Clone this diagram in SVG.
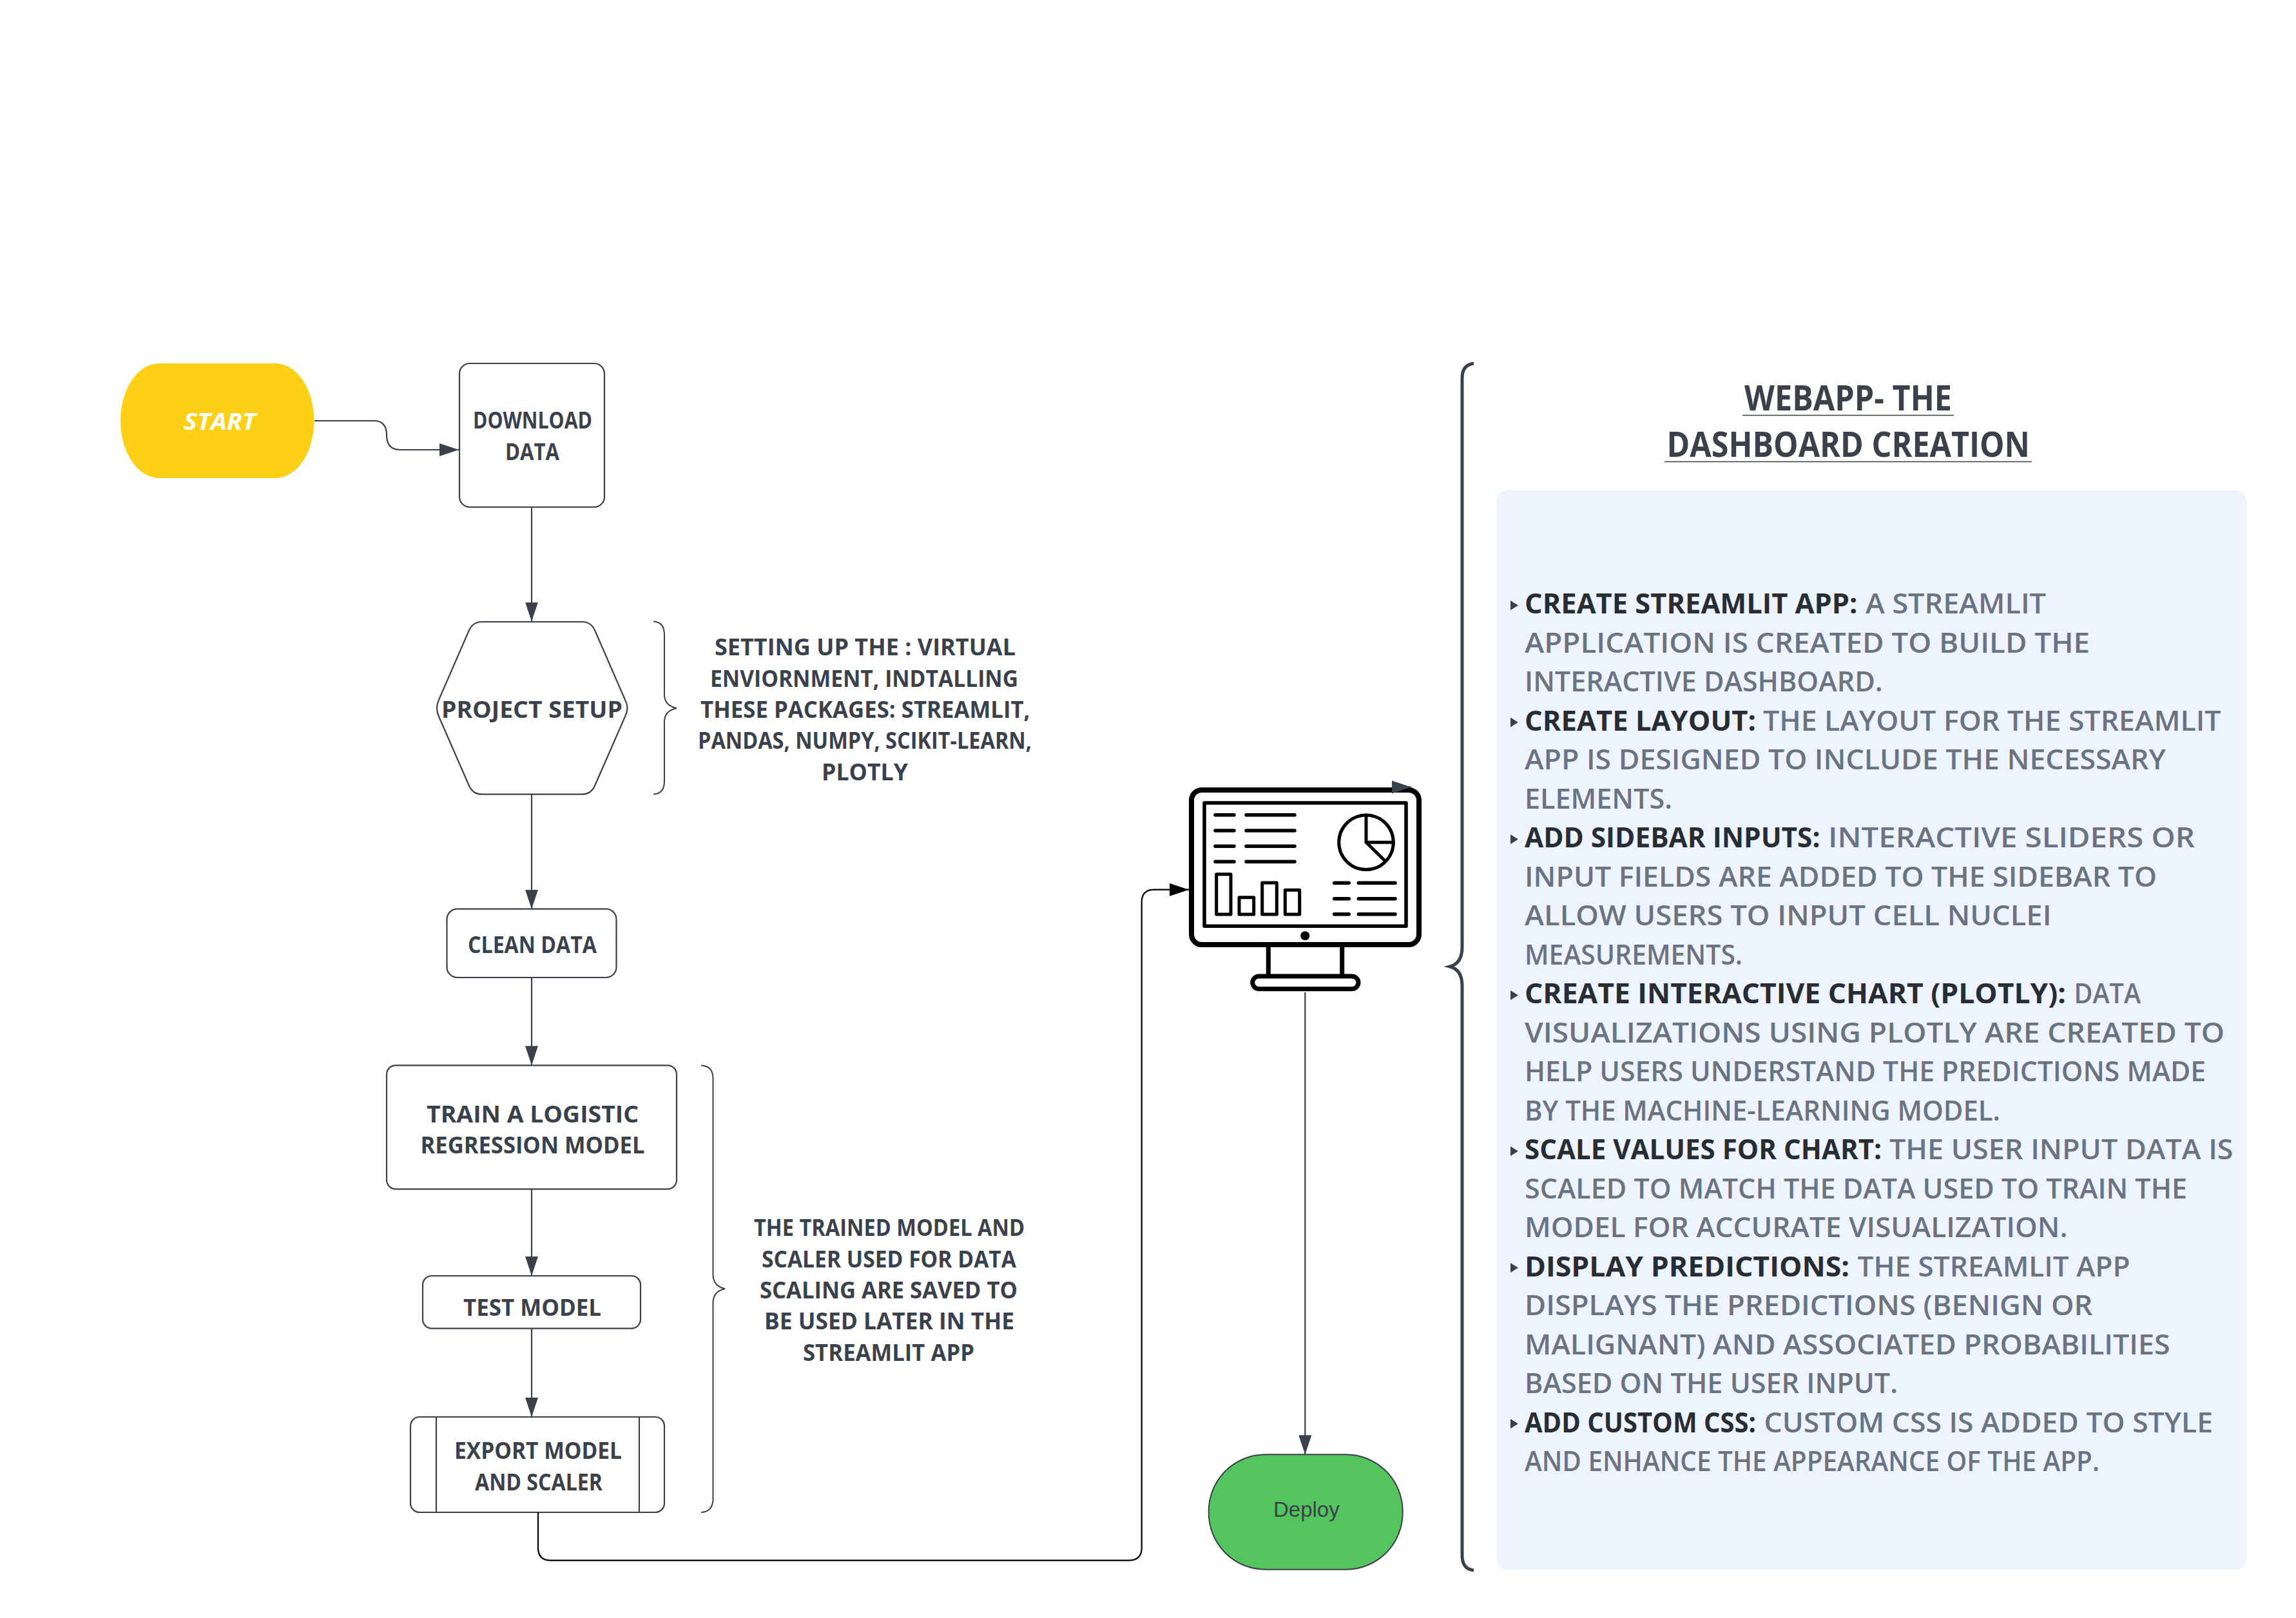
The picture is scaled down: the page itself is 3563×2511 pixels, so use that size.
<svg xmlns="http://www.w3.org/2000/svg" width="3563" height="2511" viewBox="0 0 3563 2511">
<style>
text{font-family:"Open Sans","Liberation Sans",sans-serif}
.n{fill:#fff;stroke:#3a414a;stroke-width:2.2}
.l{font-size:36px;font-weight:700;fill:#3a414a}
.t{font-size:53px;font-weight:700;fill:#3a414a}
.b{font-size:43px;font-weight:700;fill:#282c33}
.r{font-size:43px;font-weight:600;fill:#6b7280}
.c{fill:none;stroke:#3a414a;stroke-width:2.2}
.k{fill:none;stroke:#000;stroke-width:2.2}
.br{fill:none;stroke:#3a414a;stroke-width:2}
.m{fill:none;stroke:#000;stroke-linecap:round;stroke-linejoin:round}
.u{stroke:#3a414a;stroke-width:1.5}
</style>
<defs>
<marker id="a" markerUnits="userSpaceOnUse" markerWidth="32" markerHeight="22" refX="30" refY="11" orient="auto"><path d="M0,1 L30,11 L0,21 Z" fill="#3a414a"/></marker>
<marker id="ak" markerUnits="userSpaceOnUse" markerWidth="32" markerHeight="22" refX="30" refY="11" orient="auto"><path d="M0,1 L30,11 L0,21 Z" fill="#000"/></marker>
</defs>
<rect width="3563" height="2511" fill="#fff"/>

<g id="start">
<rect x="187" y="564" width="300.500" height="178" rx="60" ry="89" fill="#fcd016"/>
<text x="285" y="667" textLength="112" lengthAdjust="spacingAndGlyphs" font-size="36" font-weight="700" font-style="italic" fill="#fff">START</text>
</g>
<g id="download-data">
<rect class="n" x="713" y="564" width="225" height="223" rx="16"/>
<text class="l" x="734" y="665" textLength="185" lengthAdjust="spacingAndGlyphs">DOWNLOAD</text>
<text class="l" x="784" y="714" textLength="84" lengthAdjust="spacingAndGlyphs">DATA</text>
</g>
<g id="project-setup">
<path class="n" d="M748,965 H903 Q917,965 923,978 L970,1086 Q977,1099 970,1112 L923,1219.500 Q917,1232.700 903,1232.700 H748 Q734,1232.700 728,1219.500 L681,1112 Q675,1099 681,1086 L728,978 Q734,965 748,965 Z"/>
<text class="l" x="685" y="1113.500" textLength="281" lengthAdjust="spacingAndGlyphs">PROJECT SETUP</text>
</g>
<g id="clean-data">
<rect class="n" x="693.500" y="1410.700" width="263" height="106.300" rx="16"/>
<text class="l" x="726" y="1479" textLength="200" lengthAdjust="spacingAndGlyphs">CLEAN DATA</text>
</g>
<g id="train-model">
<rect class="n" x="600" y="1653.300" width="450" height="192" rx="14"/>
<text class="l" x="662" y="1742" textLength="329" lengthAdjust="spacingAndGlyphs">TRAIN A LOGISTIC</text>
<text class="l" x="652.500" y="1790" textLength="348" lengthAdjust="spacingAndGlyphs">REGRESSION MODEL</text>
</g>
<g id="test-model">
<rect class="n" x="656" y="1980" width="338" height="81.600" rx="14"/>
<text class="l" x="719" y="2042" textLength="214" lengthAdjust="spacingAndGlyphs">TEST MODEL</text>
</g>
<g id="export-model">
<rect class="n" x="637" y="2199" width="394" height="148" rx="14"/>
<path class="c" d="M677,2199 V2347 M992,2199 V2347"/>
<text class="l" x="705" y="2264" textLength="260" lengthAdjust="spacingAndGlyphs">EXPORT MODEL</text>
<text class="l" x="737" y="2313" textLength="198" lengthAdjust="spacingAndGlyphs">AND SCALER</text>
</g>
<g id="monitor">
<rect class="m" x="1849" y="1226" width="353" height="240" rx="16" stroke-width="8"/>
<rect class="m" x="1869" y="1246" width="313" height="191.300" stroke-width="5.500"/>
<path class="m" stroke-width="5.500" d="M1886,1264.700 H1915 M1934,1264.700 H2009 M1886,1289 H1915 M1934,1289 H2009 M1886,1313.300 H1915 M1934,1313.300 H2009 M1886,1337.300 H1915 M1934,1337.300 H2009 M2070.700,1370.300 H2093.300 M2108.300,1370.300 H2165 M2070.700,1394.700 H2093.300 M2108.300,1394.700 H2165 M2070.700,1418.700 H2093.300 M2108.300,1418.700 H2165"/>
<path class="m" stroke-width="5" d="M1887.700,1356.700 H1910 V1419 H1887.700 Z M1923,1392.700 H1945.700 V1419 H1923 Z M1958.700,1370 H1981.300 V1419 H1958.700 Z M1994.300,1381.300 H2016.700 V1419 H1994.300 Z"/>
<circle class="m" cx="2120" cy="1307.300" r="42.300" stroke-width="5"/>
<path class="m" stroke-width="5" d="M2120,1265 V1307.300 H2162.300 M2120,1307.300 L2148.300,1335"/>
<circle cx="2025.300" cy="1452.300" r="7" fill="#000"/>
<path class="m" stroke-width="7" d="M1968.300,1466 V1513 M2082.700,1466 V1513"/>
<rect class="m" x="1943.700" y="1515" width="164.300" height="19.700" rx="10" stroke-width="7"/>
</g>
<g id="deploy">
<rect x="1875.700" y="2257.300" width="301" height="178.400" rx="88" ry="88" fill="#54c45e" stroke="#3a414a" stroke-width="2"/>
<text x="1976" y="2354" font-size="33" fill="#3a414a" style="font-family:'Liberation Sans',Arial,sans-serif">Deploy</text>
</g>
<g id="note-setup">
<path class="br" d="M1014,964.500 Q1031,965 1031,985 V1078 Q1031,1095 1050,1099 Q1031,1103 1031,1120 V1212 Q1031,1232 1014,1232.500"/>
<text class="l" x="1109" y="1017.300" textLength="467" lengthAdjust="spacingAndGlyphs">SETTING UP THE : VIRTUAL</text>
<text class="l" x="1102" y="1066" textLength="478" lengthAdjust="spacingAndGlyphs">ENVIORNMENT, INDTALLING</text>
<text class="l" x="1087" y="1114" textLength="511.500" lengthAdjust="spacingAndGlyphs">THESE PACKAGES: STREAMLIT,</text>
<text class="l" x="1083" y="1162" textLength="518" lengthAdjust="spacingAndGlyphs">PANDAS, NUMPY, SCIKIT-LEARN,</text>
<text class="l" x="1275" y="1210.700" textLength="134" lengthAdjust="spacingAndGlyphs">PLOTLY</text>
</g>
<g id="note-model">
<path class="br" d="M1088,1653.500 Q1106.500,1654 1106.500,1674 V1978 Q1106.500,1996 1125,2000 Q1106.500,2004 1106.500,2022 V2326 Q1106.500,2346 1088,2347"/>
<text class="l" x="1170" y="1918" textLength="420" lengthAdjust="spacingAndGlyphs">THE TRAINED MODEL AND</text>
<text class="l" x="1182" y="1967" textLength="395" lengthAdjust="spacingAndGlyphs">SCALER USED FOR DATA</text>
<text class="l" x="1179" y="2015" textLength="400" lengthAdjust="spacingAndGlyphs">SCALING ARE SAVED TO</text>
<text class="l" x="1186" y="2063" textLength="388" lengthAdjust="spacingAndGlyphs">BE USED LATER IN THE</text>
<text class="l" x="1246" y="2111.500" textLength="266" lengthAdjust="spacingAndGlyphs">STREAMLIT APP</text>
</g>
<g id="webapp-panel">
<path fill="none" stroke="#3a414a" stroke-width="5" d="M2287,564 Q2269,566 2269,587 V1470 Q2269,1495 2250,1500 Q2269,1505 2269,1530 V2414 Q2269,2435 2287,2437"/>
<text class="t" x="2707" y="637" textLength="322" lengthAdjust="spacingAndGlyphs">WEBAPP- THE</text>
<line class="u" x1="2704" y1="644.500" x2="3032" y2="644.500"/>
<text class="t" x="2586.500" y="709" textLength="563.500" lengthAdjust="spacingAndGlyphs">DASHBOARD CREATION</text>
<line class="u" x1="2583" y1="716.500" x2="3153" y2="716.500"/>
<rect x="2323" y="761" width="1163" height="1675" rx="16" fill="#edf4ff"/>
<path fill="#3a414a" d="M2344,932 L2356,939.500 L2344,947 Z M2344,1113.500 L2356,1121 L2344,1128.500 Z M2344,1295 L2356,1302.500 L2344,1310 Z M2344,1537 L2356,1544.500 L2344,1552 Z M2344,1779 L2356,1786.500 L2344,1794 Z M2344,1960 L2356,1967.500 L2344,1975 Z M2344,2202 L2356,2209.500 L2344,2217 Z"/>
<text class="b" x="2366" y="952" textLength="516.500" lengthAdjust="spacingAndGlyphs">CREATE STREAMLIT APP:</text>
<text class="r" x="2895" y="952" textLength="280" lengthAdjust="spacingAndGlyphs">A STREAMLIT</text>
<text class="r" x="2366" y="1012.500" textLength="877" lengthAdjust="spacingAndGlyphs">APPLICATION IS CREATED TO BUILD THE</text>
<text class="r" x="2366" y="1073" textLength="555.500" lengthAdjust="spacingAndGlyphs">INTERACTIVE DASHBOARD.</text>
<text class="b" x="2366" y="1133.500" textLength="359" lengthAdjust="spacingAndGlyphs">CREATE LAYOUT:</text>
<text class="r" x="2736" y="1133.500" textLength="710.500" lengthAdjust="spacingAndGlyphs">THE LAYOUT FOR THE STREAMLIT</text>
<text class="r" x="2366" y="1194" textLength="995" lengthAdjust="spacingAndGlyphs">APP IS DESIGNED TO INCLUDE THE NECESSARY</text>
<text class="r" x="2366" y="1254.500" textLength="229" lengthAdjust="spacingAndGlyphs">ELEMENTS.</text>
<text class="b" x="2366" y="1315" textLength="458.500" lengthAdjust="spacingAndGlyphs">ADD SIDEBAR INPUTS:</text>
<text class="r" x="2837" y="1315" textLength="569" lengthAdjust="spacingAndGlyphs">INTERACTIVE SLIDERS OR</text>
<text class="r" x="2366" y="1375.500" textLength="981" lengthAdjust="spacingAndGlyphs">INPUT FIELDS ARE ADDED TO THE SIDEBAR TO</text>
<text class="r" x="2366" y="1436" textLength="817.500" lengthAdjust="spacingAndGlyphs">ALLOW USERS TO INPUT CELL NUCLEI</text>
<text class="r" x="2366" y="1496.500" textLength="338" lengthAdjust="spacingAndGlyphs">MEASUREMENTS.</text>
<text class="b" x="2366" y="1557" textLength="840" lengthAdjust="spacingAndGlyphs">CREATE INTERACTIVE CHART (PLOTLY):</text>
<text class="r" x="3218.500" y="1557" textLength="103.500" lengthAdjust="spacingAndGlyphs">DATA</text>
<text class="r" x="2366" y="1617.500" textLength="1086" lengthAdjust="spacingAndGlyphs">VISUALIZATIONS USING PLOTLY ARE CREATED TO</text>
<text class="r" x="2366" y="1678" textLength="1057" lengthAdjust="spacingAndGlyphs">HELP USERS UNDERSTAND THE PREDICTIONS MADE</text>
<text class="r" x="2366" y="1738.500" textLength="738" lengthAdjust="spacingAndGlyphs">BY THE MACHINE-LEARNING MODEL.</text>
<text class="b" x="2366" y="1799" textLength="554" lengthAdjust="spacingAndGlyphs">SCALE VALUES FOR CHART:</text>
<text class="r" x="2932" y="1799" textLength="533.500" lengthAdjust="spacingAndGlyphs">THE USER INPUT DATA IS</text>
<text class="r" x="2366" y="1859.500" textLength="1028" lengthAdjust="spacingAndGlyphs">SCALED TO MATCH THE DATA USED TO TRAIN THE</text>
<text class="r" x="2366" y="1920" textLength="842.500" lengthAdjust="spacingAndGlyphs">MODEL FOR ACCURATE VISUALIZATION.</text>
<text class="b" x="2366" y="1980.500" textLength="504" lengthAdjust="spacingAndGlyphs">DISPLAY PREDICTIONS:</text>
<text class="r" x="2882.500" y="1980.500" textLength="423" lengthAdjust="spacingAndGlyphs">THE STREAMLIT APP</text>
<text class="r" x="2366" y="2041" textLength="881.500" lengthAdjust="spacingAndGlyphs">DISPLAYS THE PREDICTIONS (BENIGN OR</text>
<text class="r" x="2366" y="2101.500" textLength="1001.500" lengthAdjust="spacingAndGlyphs">MALIGNANT) AND ASSOCIATED PROBABILITIES</text>
<text class="r" x="2366" y="2162" textLength="579" lengthAdjust="spacingAndGlyphs">BASED ON THE USER INPUT.</text>
<text class="b" x="2366" y="2222.500" textLength="359" lengthAdjust="spacingAndGlyphs">ADD CUSTOM CSS:</text>
<text class="r" x="2737.500" y="2222.500" textLength="696.500" lengthAdjust="spacingAndGlyphs">CUSTOM CSS IS ADDED TO STYLE</text>
<text class="r" x="2366" y="2283" textLength="892" lengthAdjust="spacingAndGlyphs">AND ENHANCE THE APPEARANCE OF THE APP.</text>
</g>
<g id="connectors">
<path class="c" marker-end="url(#a)" d="M488,653 H580 Q600,653 600,675 Q600,698 621,698 H712"/>
<path class="c" marker-end="url(#a)" d="M825,787 V964.500"/>
<path class="c" marker-end="url(#a)" d="M825,1232.700 V1410.700"/>
<path class="c" marker-end="url(#a)" d="M825,1517 V1653.300"/>
<path class="c" marker-end="url(#a)" d="M825,1845.300 V1980"/>
<path class="c" marker-end="url(#a)" d="M825,2061.600 V2199"/>
<path class="k" marker-end="url(#ak)" d="M835,2347 V2402 Q835,2421.700 855,2421.700 H1751 Q1771.700,2421.700 1771.700,2402 V1400 Q1771.700,1380.700 1791,1380.700 H1845"/>
<path class="c" marker-end="url(#a)" d="M2025.300,1540 V2257.300"/>
<path class="c" marker-end="url(#a)" d="M2160,1221.500 H2190"/>
</g>
</svg>
